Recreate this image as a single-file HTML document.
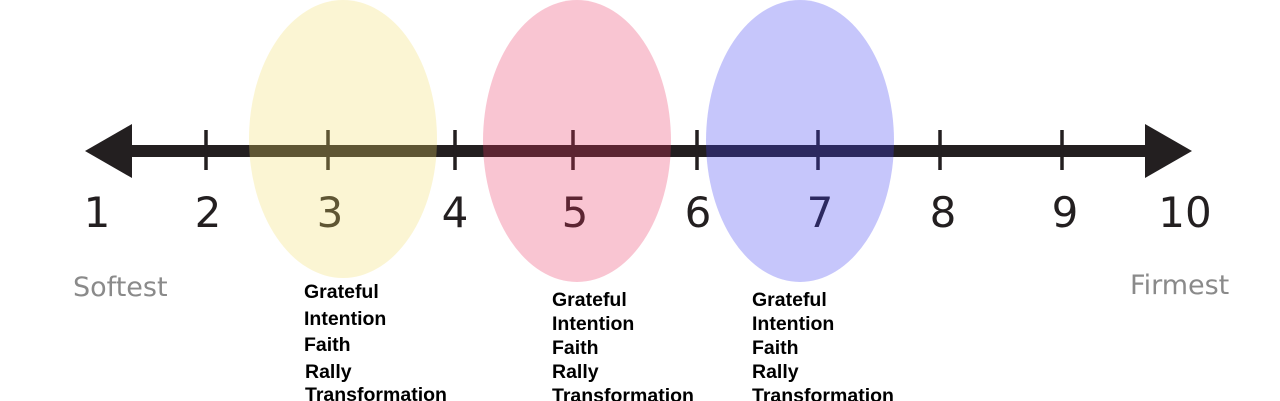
<!DOCTYPE html>
<html><head><meta charset="utf-8"><style>
html,body{margin:0;padding:0;background:#fff;}
svg{display:block;}
.n{font-family:"DejaVu Sans","Liberation Sans",sans-serif;font-size:42px;fill:#231f20;text-anchor:middle;}
.g{font-family:"DejaVu Sans","Liberation Sans",sans-serif;font-size:27px;fill:#8a8a8a;}
.l{font-family:"Liberation Sans",Arial,sans-serif;font-size:19.5px;font-weight:bold;fill:#000;}
</style></head><body>
<svg width="1280" height="401" viewBox="0 0 1280 401" xmlns="http://www.w3.org/2000/svg">
<rect width="1280" height="401" fill="#fff"/>
<rect x="120" y="145" width="1040" height="12" fill="#231f20"/>
<polygon points="85,151 132,124 132,178" fill="#231f20"/>
<polygon points="1192,151 1145,124 1145,178" fill="#231f20"/>
<g stroke="#231f20" stroke-width="3.5">
<line x1="206" y1="130" x2="206" y2="170"/>
<line x1="328" y1="130" x2="328" y2="170"/>
<line x1="455" y1="130" x2="455" y2="170"/>
<line x1="573" y1="130" x2="573" y2="170"/>
<line x1="697" y1="130" x2="697" y2="170"/>
<line x1="818" y1="130" x2="818" y2="170"/>
<line x1="940" y1="130" x2="940" y2="170"/>
<line x1="1062" y1="130" x2="1062" y2="170"/>
</g>
<text class="n" x="97" y="227">1</text>
<text class="n" x="208" y="227">2</text>
<text class="n" x="330" y="227">3</text>
<text class="n" x="455" y="227">4</text>
<text class="n" x="575" y="227">5</text>
<text class="n" x="698" y="227">6</text>
<text class="n" x="820" y="227">7</text>
<text class="n" x="943" y="227">8</text>
<text class="n" x="1065" y="227">9</text>
<text class="n" x="1185" y="227">10</text>
<ellipse cx="343" cy="139" rx="94" ry="139" fill="#f1dc65" fill-opacity="0.286"/>
<ellipse cx="577" cy="141" rx="94" ry="141" fill="#ea3462" fill-opacity="0.286"/>
<ellipse cx="800" cy="141" rx="94" ry="141" fill="#4242f3" fill-opacity="0.3"/>
<text class="g" x="73" y="296">Softest</text>
<text class="g" x="1130" y="294">Firmest</text>
<g class="l">
<text x="304" y="298">Grateful</text>
<text x="304" y="325">Intention</text>
<text x="304" y="351">Faith</text>
<text x="305" y="378">Rally</text>
<text x="305" y="401">Transformation</text>
<text x="552" y="306">Grateful</text>
<text x="552" y="330">Intention</text>
<text x="552" y="354">Faith</text>
<text x="552" y="378">Rally</text>
<text x="552" y="402">Transformation</text>
<text x="752" y="306">Grateful</text>
<text x="752" y="330">Intention</text>
<text x="752" y="354">Faith</text>
<text x="752" y="378">Rally</text>
<text x="752" y="402">Transformation</text>
</g>
</svg>
</body></html>
